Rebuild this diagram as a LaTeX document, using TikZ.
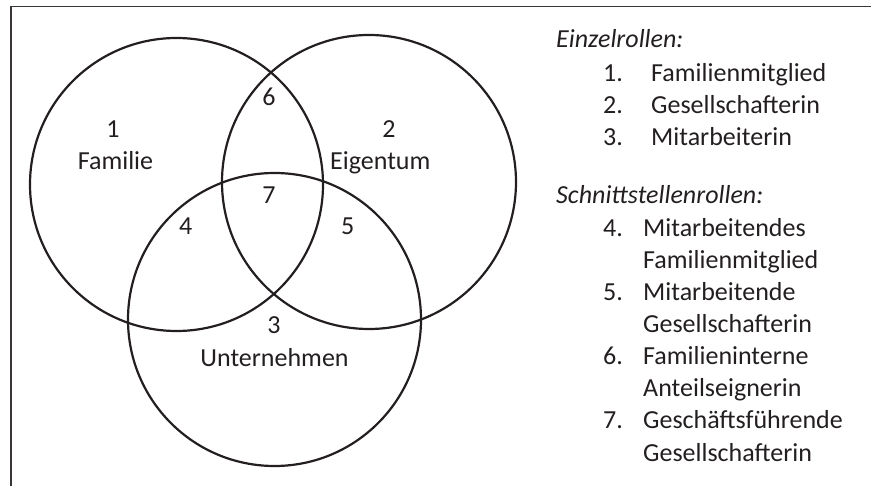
\documentclass[tikz,border=0pt]{standalone}
\usepackage{fontspec}
\setmainfont{Carlito}
\definecolor{ink}{HTML}{231F20}
\begin{document}
\begin{tikzpicture}[x=1pt,y=-1pt,
  ring/.style={draw=ink,line width=2.2pt},
  lbl/.style={anchor=base,inner sep=0pt,text=ink,font=\fontsize{26}{32}\selectfont},
  lft/.style={lbl,anchor=base west}]
\useasboundingbox (0,0) rectangle (871,486);
\draw[ink!90,line width=1.4pt] (11,486) -- (11,6.7) -- (871,6.7);
\node[ring,circle,minimum size=293pt,inner sep=0pt] (fam) at (176.5,184.5) {};
\node[ring,circle,minimum size=294pt,inner sep=0pt] (eig) at (369,182) {};
\node[ring,circle,minimum size=293pt,inner sep=0pt] (unt) at (274.5,319.5) {};
% region labels
\node[lbl] (n1) at (113,137.7) {1};
\node[lbl] (t1) at (115.5,170) {Familie};
\node[lbl] (n6) at (269,106) {6};
\node[lbl] (n2) at (389,137.7) {2};
\node[lbl] (t2) at (380.3,169.5) {Eigentum};
\node[lbl] (n7) at (269,203.3) {7};
\node[lbl] (n4) at (185.7,235) {4};
\node[lbl] (n5) at (347.7,235) {5};
\node[lbl] (n3) at (274,333.3) {3};
\node[lbl] (t3) at (274.5,366.7) {Unternehmen};
% legend
\node[lft,font=\fontsize{26}{32}\selectfont\itshape] (h1) at (556,48) {Einzelrollen:};
\node[lft] (a1) at (603,82) {1.};
\node[lft] (b1) at (651,82) {Familienmitglied};
\node[lft] (a2) at (603,114) {2.};
\node[lft] (b2) at (651,114) {Gesellschafterin};
\node[lft] (a3) at (603,146) {3.};
\node[lft] (b3) at (651,146) {Mitarbeiterin};
\node[lft,font=\fontsize{26}{32}\selectfont\itshape] (h2) at (556,204) {Schnittstellenrollen:};
\node[lft] (a4) at (603,237) {4.};
\node[lft] (b4) at (643,237) {Mitarbeitendes};
\node[lft] (c4) at (643,269) {Familienmitglied};
\node[lft] (a5) at (603,301) {5.};
\node[lft] (b5) at (643,301) {Mitarbeitende};
\node[lft] (c5) at (643,333) {Gesellschafterin};
\node[lft] (a6) at (603,365) {6.};
\node[lft] (b6) at (643,365) {Familieninterne};
\node[lft] (c6) at (643,397) {Anteilseignerin};
\node[lft] (a7) at (603,429) {7.};
\node[lft] (b7) at (643,429) {Geschäftsführende};
\node[lft] (c7) at (643,461) {Gesellschafterin};
\end{tikzpicture}
\end{document}
